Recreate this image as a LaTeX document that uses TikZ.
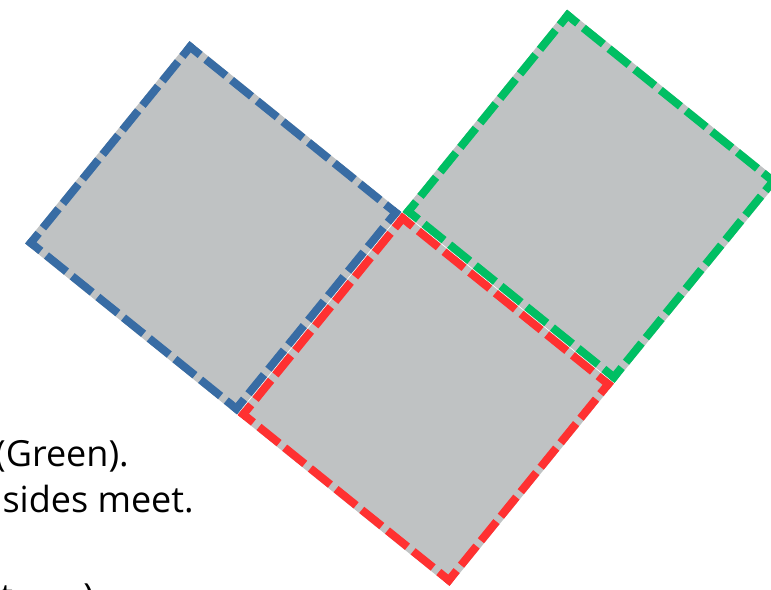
\documentclass[tikz,border=0pt]{standalone}
\usepackage{fontspec}
\setmainfont{Open Sans}
\definecolor{sqgray}{HTML}{BFC2C3}
\definecolor{sqblue}{HTML}{386CA4}
\definecolor{sqgreen}{HTML}{00BF63}
\definecolor{sqred}{HTML}{FF3131}
\tikzset{
  sqfill/.style={fill=sqgray, draw=sqgray, line width=6pt, line join=miter},
  longside/.style={line width=6pt, line cap=rect, dash pattern=on 13.3pt off 11.45pt, dash phase=6.65pt},
  shortside/.style={line width=6pt, line cap=rect, dash pattern=on 12.47pt off 11.21pt, dash phase=6.235pt},
  label/.style={font=\fontsize{27}{32}\selectfont, inner sep=0pt, text=black}
}
\newcommand{\dashsq}[5]{%
  \draw[sqfill] (#2,#3) -- (#4,#3) -- (#4,#5) -- (#2,#5) -- cycle;
  \draw[longside,#1] (#2,#3) -- (#4,#3);
  \draw[longside,#1] (#2,#5) -- (#4,#5);
  \draw[shortside,#1] (#2,#3) -- (#2,#5);
  \draw[shortside,#1] (#4,#3) -- (#4,#5);
}
\begin{document}
\begin{tikzpicture}[x=0.75pt, y=-0.75pt]
\useasboundingbox (0,0) rectangle (771,589);
\clip (0,0) rectangle (771,589);
\fill[white] (0,0) rectangle (771,589);
\begin{scope}[shift={(402,212)}, x={(0.5837pt,-0.4710pt)}, y={(-0.4730pt,-0.5820pt)}]
  % blue square
  \dashsq{sqblue}{-268.57}{4.5}{-4.5}{257.1}
  % red square
  \dashsq{sqred}{4.5}{4.5}{268.57}{257.1}
  % green square
  \dashsq{sqgreen}{4.5}{-257.1}{268.57}{-4.5}
\end{scope}
\node[label, anchor=base east] (t1) at (129,466) {(Green).};
\node[label, anchor=base east] (t2) at (194,512) {sides meet.};
\node[label, anchor=base west] (t3) at (0,609) {t};
\node[label, anchor=base west] (t4) at (83,609) {)};
\end{tikzpicture}
\end{document}
